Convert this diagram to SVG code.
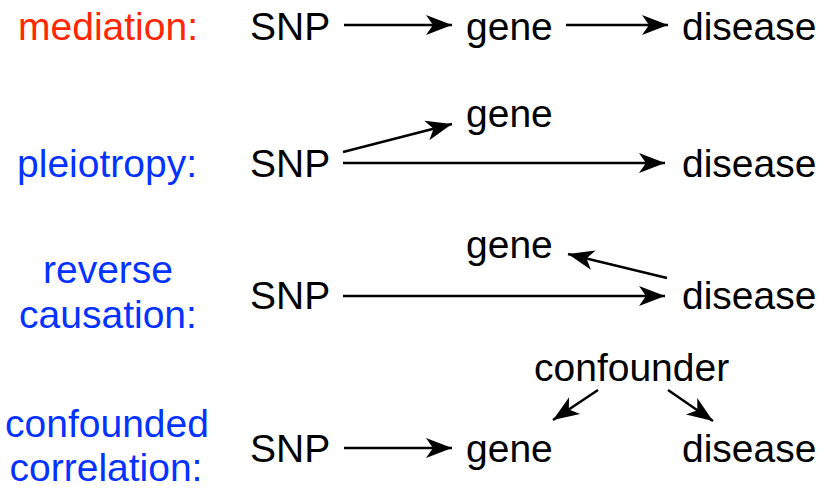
<svg xmlns="http://www.w3.org/2000/svg" width="830" height="493" viewBox="0 0 830 493">
<defs>
<style>
text{font-family:"Liberation Sans",Arial,Helvetica,sans-serif;font-size:39px;}
.node{fill:#000;}
.lab{text-anchor:middle;}
.red{fill:#FF2600;}
.blue{fill:#0433FF;}
.conn line{stroke:#000;stroke-width:2.5;fill:none;marker-end:url(#ah);}
</style>
<marker id="ah" markerUnits="userSpaceOnUse" markerWidth="30" markerHeight="24" viewBox="-2 -12 30 24" refX="26" refY="0" orient="auto">
<path d="M0,-10 L26,0 L0,10 L7,0 Z" fill="#000"/>
</marker>
</defs>
<rect width="830" height="493" fill="#fff"/>
<g id="labels">
<text class="lab red" x="108" y="40">mediation:</text>
<text class="lab blue" x="107" y="177">pleiotropy:</text>
<text class="lab blue" x="108" y="283">reverse</text>
<text class="lab blue" x="108" y="328">causation:</text>
<text class="lab blue" x="107" y="437">confounded</text>
<text class="lab blue" x="106" y="481">correlation:</text>
</g>
<g id="row1">
<g id="snp1"><text class="node" x="250" y="40">SNP</text></g>
<g id="gene1"><text class="node" x="466" y="40">gene</text></g>
<g id="disease1"><text class="node" x="682" y="40">disease</text></g>
</g>
<g id="row2">
<g id="snp2"><text class="node" x="250" y="177">SNP</text></g>
<g id="gene2"><text class="node" x="466" y="127">gene</text></g>
<g id="disease2"><text class="node" x="682" y="177">disease</text></g>
</g>
<g id="row3">
<g id="snp3"><text class="node" x="250" y="309">SNP</text></g>
<g id="gene3"><text class="node" x="466" y="258">gene</text></g>
<g id="disease3"><text class="node" x="682" y="309">disease</text></g>
</g>
<g id="row4">
<g id="confounder4"><text class="node" x="534" y="381">confounder</text></g>
<g id="snp4"><text class="node" x="250" y="462">SNP</text></g>
<g id="gene4"><text class="node" x="466" y="462">gene</text></g>
<g id="disease4"><text class="node" x="682" y="462">disease</text></g>
</g>
<g id="connectors" class="conn">
<line x1="344" y1="25" x2="452" y2="25"/>
<line x1="566" y1="25" x2="668" y2="25"/>
<line x1="343" y1="152" x2="452" y2="124"/>
<line x1="343" y1="163" x2="665" y2="163"/>
<line x1="343" y1="296" x2="665" y2="296"/>
<line x1="667" y1="278" x2="568" y2="254"/>
<line x1="598" y1="390" x2="553" y2="420"/>
<line x1="668" y1="390" x2="713" y2="421"/>
<line x1="344" y1="448" x2="452" y2="448"/>
</g>
</svg>
